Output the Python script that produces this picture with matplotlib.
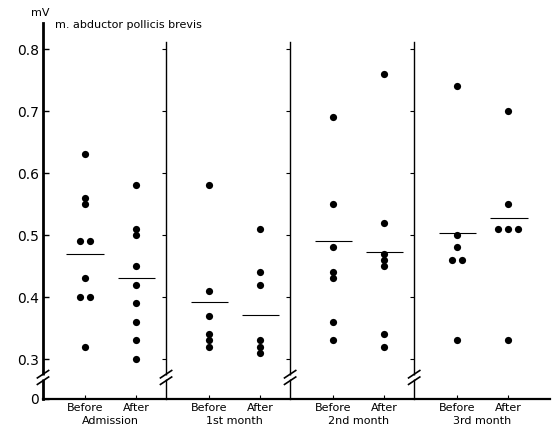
import numpy as np
import matplotlib
matplotlib.use("Agg")
import matplotlib.pyplot as plt
from matplotlib.lines import Line2D

# readings in mV, one list per column
groups = ["Admission", "1st month", "2nd month", "3rd month"]
conditions = ["Before", "After"]

adm_before = [0.63, 0.56, 0.55, 0.49, 0.49, 0.43, 0.40, 0.40, 0.32]
adm_after = [0.58, 0.51, 0.50, 0.45, 0.42, 0.39, 0.36, 0.33, 0.30]
m1_before = [0.58, 0.41, 0.37, 0.34, 0.33, 0.32]
m1_after = [0.51, 0.44, 0.42, 0.33, 0.32, 0.31]
m2_before = [0.69, 0.55, 0.48, 0.44, 0.43, 0.36, 0.33]
m2_after = [0.76, 0.52, 0.47, 0.46, 0.45, 0.34, 0.32]
m3_before = [0.74, 0.50, 0.48, 0.46, 0.46, 0.33]
m3_after = [0.70, 0.55, 0.51, 0.51, 0.51, 0.33]

# mean bars as drawn
means = [0.469, 0.431, 0.392, 0.371, 0.490, 0.472, 0.503, 0.528]

yticks = [0.3, 0.4, 0.5, 0.6, 0.7, 0.8]

columns = [adm_before, adm_after, m1_before, m1_after,
           m2_before, m2_after, m3_before, m3_after]

# layout
GROUP_STEP = 2.43
Y0 = 0.2355      # where "0" sits on the broken axis
YTOP = 0.842


def spread(vals, step=0.19):
    # side by side offsets for equal values
    offs = []
    for i, v in enumerate(vals):
        same = [j for j, w in enumerate(vals) if abs(w - v) < 1e-9]
        k = same.index(i)
        offs.append((k - (len(same) - 1) / 2) * step)
    return np.array(offs)


fig = plt.figure(figsize=(5.52, 4.25), dpi=100)
ax = fig.add_axes([43 / 552, 26 / 425, 507 / 552, 376 / 425])

positions = []
for g in range(len(groups)):
    for c in range(2):
        positions.append(g * GROUP_STEP + c)

for pos, vals, m in zip(positions, columns, means):
    vals = np.array(vals)
    ax.scatter(pos + spread(list(vals)), vals, s=27, color="black",
               zorder=3, linewidths=0)
    ax.hlines(m, pos - 0.36, pos + 0.38, color="black", linewidth=0.8)

ax.set_xlim(-0.82, positions[-1] + 0.82)
ax.set_ylim(Y0, YTOP)

for s in ["top", "right"]:
    ax.spines[s].set_visible(False)
ax.spines["left"].set_linewidth(2.0)
ax.spines["bottom"].set_linewidth(1.6)

ax.set_yticks([Y0] + yticks)
ax.set_yticklabels(["0"] + ["%.1f" % t for t in yticks], fontsize=10)
ax.tick_params(axis="y", direction="in", length=4, width=1, pad=3)
ax.set_xticks(positions)
ax.set_xticklabels(conditions * len(groups), fontsize=8)
ax.tick_params(axis="x", direction="in", length=3, width=0.8, pad=3)

# separators between the periods, each a small broken axis of its own
ytop_div = 0.811
for g in range(len(groups) - 1):
    xd = g * GROUP_STEP + 1.59
    ax.plot([xd, xd], [Y0, ytop_div], color="black", linewidth=1.0, clip_on=False)
    ax.plot([xd] * len(yticks), yticks, linestyle="none", marker=0,
            markersize=3, color="black", markeredgewidth=0.8)


def broken(x, lw):
    ya, yb = 0.2755, 0.265
    ax.plot([x, x], [yb + 0.002, ya - 0.002], color="white", linewidth=lw + 1.5,
            clip_on=False, zorder=5, solid_capstyle="butt")
    for yc in (ya, yb):
        ax.add_line(Line2D([x - 0.11, x + 0.11], [yc - 0.006, yc + 0.006],
                           color="black", linewidth=1.2, clip_on=False, zorder=6))


broken(-0.82, 2.0)
for g in range(len(groups) - 1):
    broken(g * GROUP_STEP + 1.59, 1.0)

for g, name in enumerate(groups):
    ax.annotate(name, xy=(g * GROUP_STEP + 0.5, 0), xycoords=("data", "axes fraction"),
                xytext=(0, -16), textcoords="offset points", ha="center", va="center",
                fontsize=8)

fig.text(40 / 552, 1 - 13 / 425, "mV", fontsize=8, ha="center", va="center")
fig.text(55 / 552, 1 - 25 / 425, "m. abductor pollicis brevis", fontsize=8,
         ha="left", va="center")

fig.savefig("out.png", dpi=100)
